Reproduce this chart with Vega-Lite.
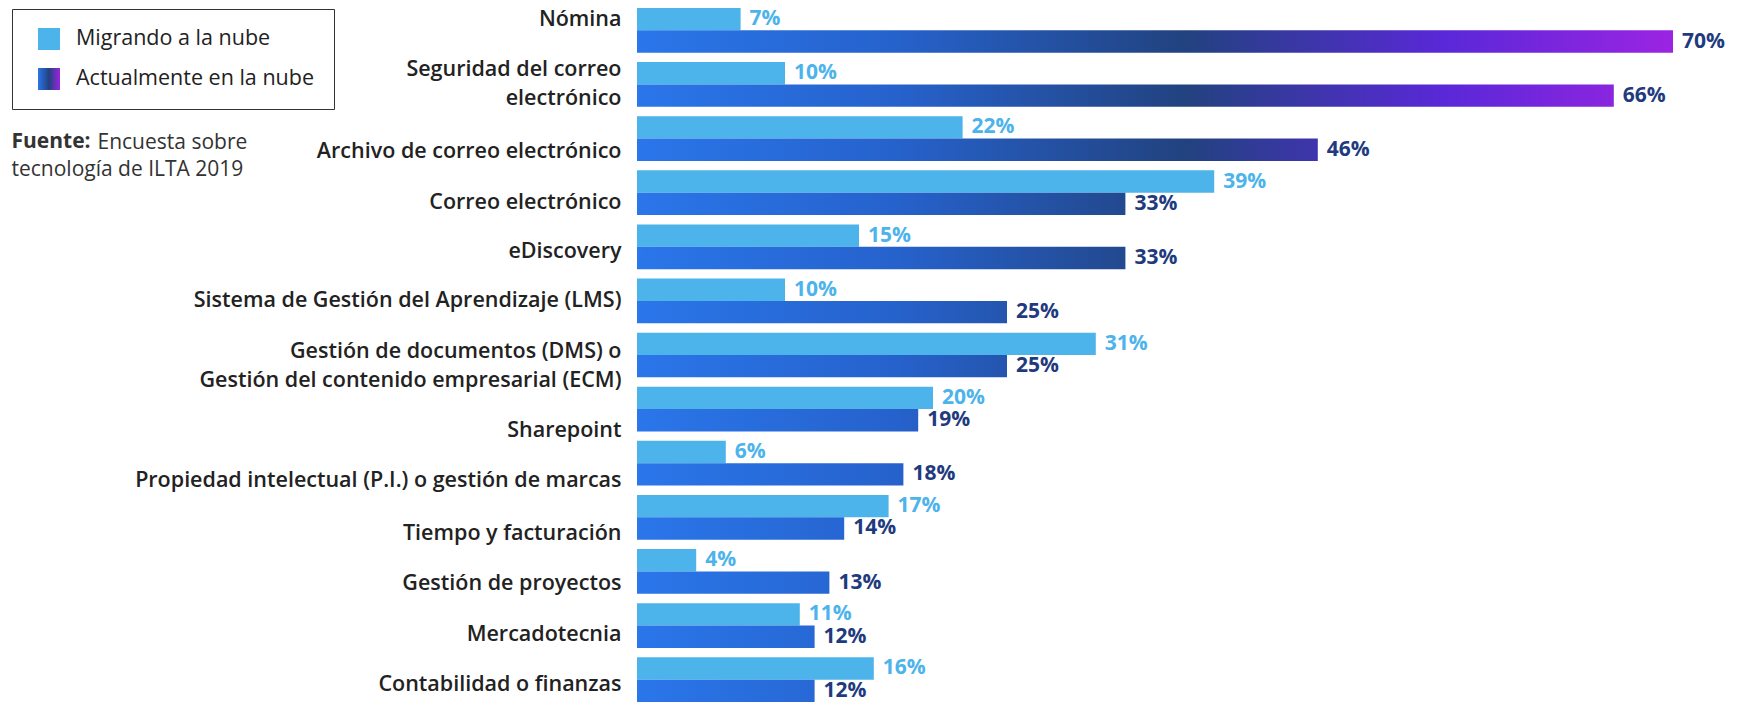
{
  "$schema": "https://vega.github.io/schema/vega-lite/v6.json",
  "width": 1036,
  "height": 698,
  "padding": {"left": 11, "top": 6, "right": 5, "bottom": 0},
  "autosize": {"type": "pad"},
  "config": {"view": {"stroke": null}, "font": "Open Sans"},
  "title": {
    "text": "Fuente:",
    "subtitle": "tecnología de ILTA 2019",
    "anchor": "start",
    "frame": "bounds",
    "orient": "top",
    "offset": 0,
    "dy": 174,
    "font": "Open Sans",
    "fontSize": 21,
    "fontWeight": "bold",
    "color": "#333333",
    "subtitleFont": "Open Sans",
    "subtitleFontSize": 21,
    "subtitleColor": "#333333",
    "subtitlePadding": 7
  },
  "data": {
    "values": [
      {"categoria": "Nómina", "serie": "Migrando a la nube", "valor": 7},
      {"categoria": "Nómina", "serie": "Actualmente en la nube", "valor": 70},
      {"categoria": "Seguridad del correo electrónico", "serie": "Migrando a la nube", "valor": 10},
      {"categoria": "Seguridad del correo electrónico", "serie": "Actualmente en la nube", "valor": 66},
      {"categoria": "Archivo de correo electrónico", "serie": "Migrando a la nube", "valor": 22},
      {"categoria": "Archivo de correo electrónico", "serie": "Actualmente en la nube", "valor": 46},
      {"categoria": "Correo electrónico", "serie": "Migrando a la nube", "valor": 39},
      {"categoria": "Correo electrónico", "serie": "Actualmente en la nube", "valor": 33},
      {"categoria": "eDiscovery", "serie": "Migrando a la nube", "valor": 15},
      {"categoria": "eDiscovery", "serie": "Actualmente en la nube", "valor": 33},
      {"categoria": "Sistema de Gestión del Aprendizaje (LMS)", "serie": "Migrando a la nube", "valor": 10},
      {"categoria": "Sistema de Gestión del Aprendizaje (LMS)", "serie": "Actualmente en la nube", "valor": 25},
      {"categoria": "Gestión de documentos (DMS) o Gestión del contenido empresarial (ECM)", "serie": "Migrando a la nube", "valor": 31},
      {"categoria": "Gestión de documentos (DMS) o Gestión del contenido empresarial (ECM)", "serie": "Actualmente en la nube", "valor": 25},
      {"categoria": "Sharepoint", "serie": "Migrando a la nube", "valor": 20},
      {"categoria": "Sharepoint", "serie": "Actualmente en la nube", "valor": 19},
      {"categoria": "Propiedad intelectual (P.I.) o gestión de marcas", "serie": "Migrando a la nube", "valor": 6},
      {"categoria": "Propiedad intelectual (P.I.) o gestión de marcas", "serie": "Actualmente en la nube", "valor": 18},
      {"categoria": "Tiempo y facturación", "serie": "Migrando a la nube", "valor": 17},
      {"categoria": "Tiempo y facturación", "serie": "Actualmente en la nube", "valor": 14},
      {"categoria": "Gestión de proyectos", "serie": "Migrando a la nube", "valor": 4},
      {"categoria": "Gestión de proyectos", "serie": "Actualmente en la nube", "valor": 13},
      {"categoria": "Mercadotecnia", "serie": "Migrando a la nube", "valor": 11},
      {"categoria": "Mercadotecnia", "serie": "Actualmente en la nube", "valor": 12},
      {"categoria": "Contabilidad o finanzas", "serie": "Migrando a la nube", "valor": 16},
      {"categoria": "Contabilidad o finanzas", "serie": "Actualmente en la nube", "valor": 12}
    ]
  },
  "encoding": {
    "y": {
      "field": "categoria",
      "type": "nominal",
      "sort": ["Nómina", "Seguridad del correo electrónico", "Archivo de correo electrónico", "Correo electrónico", "eDiscovery", "Sistema de Gestión del Aprendizaje (LMS)", "Gestión de documentos (DMS) o Gestión del contenido empresarial (ECM)", "Sharepoint", "Propiedad intelectual (P.I.) o gestión de marcas", "Tiempo y facturación", "Gestión de proyectos", "Mercadotecnia", "Contabilidad o finanzas"],
      "scale": {"paddingInner": 0.174, "paddingOuter": 0.037},
      "axis": {
        "title": "Encuesta sobre",
        "titleX": -540,
        "titleY": 136,
        "titleAngle": 0,
        "titleAlign": "left",
        "titleBaseline": "middle",
        "titleFont": "Open Sans",
        "titleFontSize": 21,
        "titleFontWeight": "normal",
        "titleColor": "#333333",
        "domain": false,
        "ticks": false,
        "labelFont": "Open Sans",
        "labelFontSize": 21.5,
        "labelFontWeight": 600,
        "labelColor": "#222222",
        "labelPadding": 16,
        "labelLimit": 700,
        "labelLineHeight": 29,
        "labelExpr": "datum.value === 'Seguridad del correo electrónico' ? ['Seguridad del correo', 'electrónico'] : datum.value === 'Gestión de documentos (DMS) o Gestión del contenido empresarial (ECM)' ? ['Gestión de documentos (DMS) o', 'Gestión del contenido empresarial (ECM)'] : datum.label",
        "labelOffset": {
          "condition": [
            {"test": "datum.value === 'Nómina'", "value": -10},
            {"test": "datum.value === 'Seguridad del correo electrónico'", "value": -14.5},
            {"test": "datum.value === 'Archivo de correo electrónico'", "value": 13},
            {"test": "datum.value === 'Correo electrónico'", "value": 10},
            {"test": "datum.value === 'eDiscovery'", "value": 5},
            {"test": "datum.value === 'Gestión de documentos (DMS) o Gestión del contenido empresarial (ECM)'", "value": -3},
            {"test": "datum.value === 'Sharepoint'", "value": 22},
            {"test": "datum.value === 'Propiedad intelectual (P.I.) o gestión de marcas'", "value": 18},
            {"test": "datum.value === 'Tiempo y facturación'", "value": 17},
            {"test": "datum.value === 'Gestión de proyectos'", "value": 13},
            {"test": "datum.value === 'Mercadotecnia'", "value": 9},
            {"test": "datum.value === 'Contabilidad o finanzas'", "value": 5}
          ],
          "value": 0
        }
      }
    },
    "yOffset": {
      "field": "serie",
      "type": "nominal",
      "scale": {"domain": ["Migrando a la nube", "Actualmente en la nube"], "paddingInner": 0, "paddingOuter": 0}
    },
    "x": {
      "field": "valor",
      "type": "quantitative",
      "scale": {"domain": [0, 70], "nice": false, "zero": true},
      "axis": null
    }
  },
  "layer": [
    {
      "transform": [{"filter": "datum.serie === 'Migrando a la nube'"}],
      "mark": {"type": "bar"},
      "encoding": {
        "color": {
          "field": "serie",
          "type": "nominal",
          "scale": {
            "domain": ["Migrando a la nube", "Actualmente en la nube"],
            "range": ["#4db3eb", {"expr": "{gradient: 'linear', x1: 0, y1: 0, x2: 1, y2: 0, stops: [{offset: 0, color: '#2a76ea'}, {offset: 0.5, color: '#22427f'}, {offset: 1, color: '#9b24e2'}]}"}]
          },
          "legend": {
            "title": null,
            "orient": "none",
            "legendX": -625,
            "legendY": 3,
            "direction": "vertical",
            "symbolType": "square",
            "symbolSize": 484,
            "symbolStrokeWidth": 0,
            "symbolOffset": 7,
            "labelOffset": 16,
            "labelFont": "Open Sans",
            "labelFontSize": 21.5,
            "labelFontWeight": 500,
            "labelColor": "#222222",
            "labelLimit": 400,
            "rowPadding": 18,
            "padding": 19,
            "strokeColor": "#333333",
            "fillColor": "#ffffff"
          }
        }
      }
    },
    {
      "transform": [{"filter": "datum.serie === 'Actualmente en la nube'"}],
      "mark": {
        "type": "bar",
        "fill": {"expr": "{gradient: 'linear', x1: 0, y1: 0, x2: 70 / datum.valor, y2: 0, stops: [{offset: 0, color: '#2a76ea'}, {offset: 0.25, color: '#2662cc'}, {offset: 0.53, color: '#22427f'}, {offset: 0.78, color: '#5a28d8'}, {offset: 1, color: '#9b24e2'}]}"}
      }
    },
    {
      "mark": {
        "type": "text",
        "align": "left",
        "baseline": "middle",
        "dx": 9,
        "font": "Open Sans",
        "fontSize": 21,
        "fontWeight": "bold",
        "text": {"expr": "datum.valor + '%'"}
      },
      "encoding": {
        "color": {
          "condition": {"test": "datum.serie === 'Migrando a la nube'", "value": "#4db3eb"},
          "value": "#1f3b7e"
        }
      }
    }
  ]
}
